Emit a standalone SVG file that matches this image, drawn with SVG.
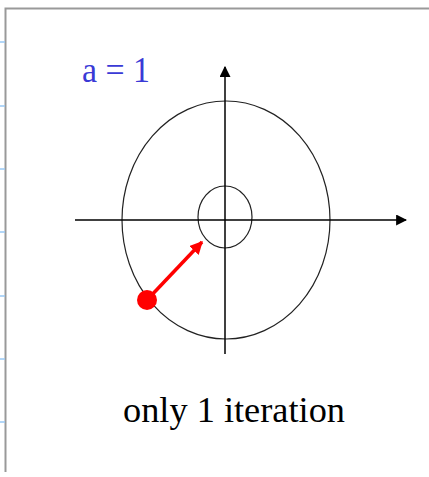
<svg xmlns="http://www.w3.org/2000/svg" width="429" height="477" viewBox="0 0 429 477">
<defs>
<style>
.ax{stroke:#000;stroke-width:1.5;fill:none}
.el{stroke:#222;stroke-width:1.2;fill:none}
.tick{stroke:#99c9f5;stroke-width:1.5}
.t{font-family:"Liberation Serif",serif;font-size:36px}
</style>
<marker id="ahb" viewBox="0 0 10 10" refX="9" refY="5" markerWidth="11" markerHeight="11" markerUnits="userSpaceOnUse" orient="auto"><path d="M0,0 L10,5 L0,10 z" fill="#000"/></marker>
<marker id="rh" viewBox="0 0 10 10" refX="9" refY="5" markerWidth="13" markerHeight="13" markerUnits="userSpaceOnUse" orient="auto"><path d="M0,0 L10,5 L0,10 z" fill="#f00"/></marker>
</defs>
<rect width="429" height="477" fill="#fff"/>
<g id="frame">
<path d="M5.5,472 V8.5 H429" stroke="#999" stroke-width="2" fill="none"/>
<line class="tick" x1="0" y1="42" x2="5" y2="42"/>
<line class="tick" x1="0" y1="106" x2="5" y2="106"/>
<line class="tick" x1="0" y1="169" x2="5" y2="169"/>
<line class="tick" x1="0" y1="232" x2="5" y2="232"/>
<line class="tick" x1="0" y1="296" x2="5" y2="296"/>
<line class="tick" x1="0" y1="359" x2="5" y2="359"/>
<line class="tick" x1="0" y1="422" x2="5" y2="422"/>
</g>
<g id="big-ellipse"><ellipse class="el" cx="226" cy="220" rx="104" ry="119"/></g>
<g id="small-ellipse"><ellipse class="el" cx="225" cy="217" rx="27" ry="31"/></g>
<g id="connectors">
<line class="ax" x1="75" y1="220" x2="406" y2="220" marker-end="url(#ahb)"/>
<line class="ax" x1="225" y1="354" x2="225" y2="67" marker-end="url(#ahb)"/>
<line x1="147" y1="300" x2="202" y2="242" stroke="#f00" stroke-width="3.5" marker-end="url(#rh)"/>
</g>
<g id="point"><circle cx="147" cy="300" r="10" fill="#f00"/></g>
<g id="label-a"><text class="t" x="82" y="82" fill="#3a3ad6" textLength="68" lengthAdjust="spacingAndGlyphs">a = 1</text></g>
<g id="label-iter"><text class="t" x="123" y="422" fill="#000" textLength="222" lengthAdjust="spacingAndGlyphs">only 1  iteration</text></g>
</svg>
